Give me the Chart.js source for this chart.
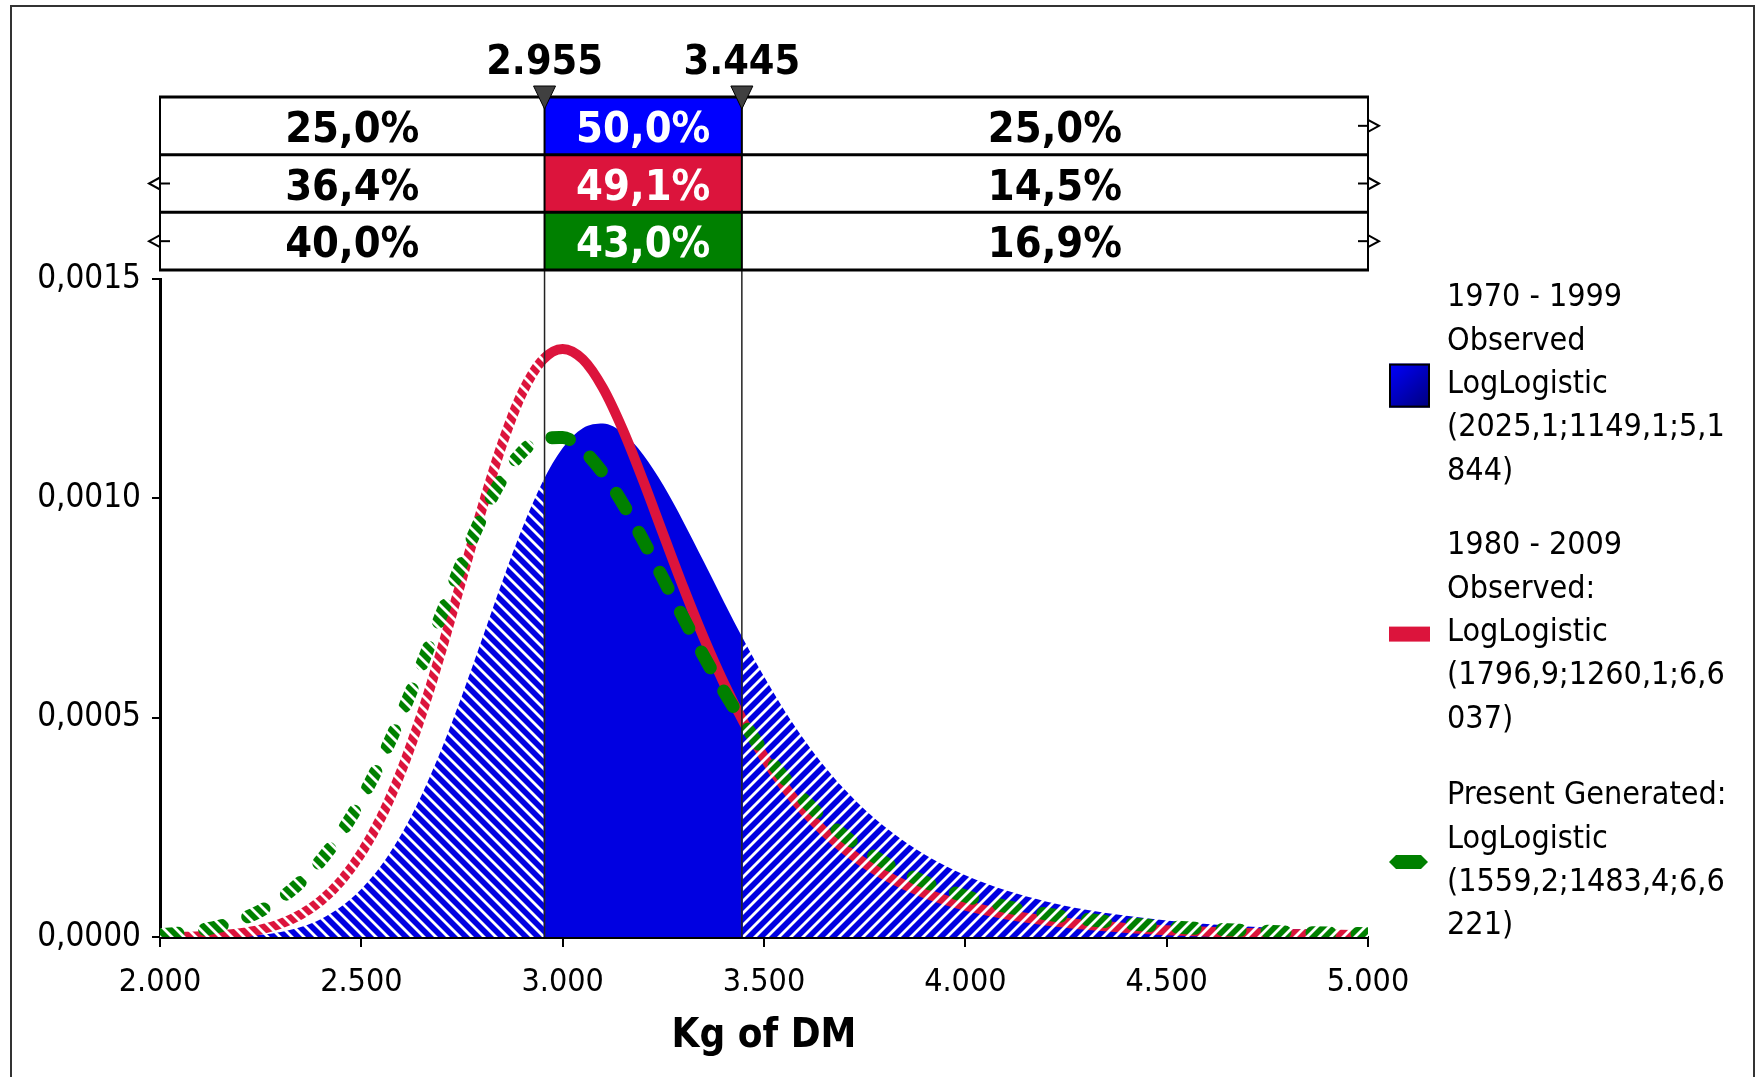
<!DOCTYPE html>
<html>
<head>
<meta charset="utf-8">
<title>Kg of DM</title>
<script src="https://cdn.jsdelivr.net/npm/chart.js@4.4.1/dist/chart.umd.min.js"></script>
<style>
  html,body{margin:0;padding:0;background:#fff;}
  canvas{display:block;}
</style>
</head>
<body>
<canvas id="c" width="1764" height="1077"></canvas>
<script>
// ===== DATA =====
const xs = [2000,2050,2100,2150,2200,2250,2300,2350,2400,2450,2500,2550,2600,2650,2700,2750,2800,2850,2900,2950,
            3000,3050,3100,3150,3200,3250,3300,3350,3400,3450,3500,3550,3600,3650,3700,3750,3800,3850,3900,3950,
            4000,4100,4200,4300,4400,4500,4600,4700,4800,4900,5000];

// 1970 - 1999 observed (blue area)
const blueVals = [0,0,0.00000005,0.0000004,0.0000017,0.0000049,0.0000113,0.0000228,0.0000413,0.0000694,
                  0.0001096,0.0001643,0.0002356,0.0003245,0.0004304,0.0005506,0.0006799,0.0008104,0.0009327,0.0010370,
                  0.0011145,0.0011596,0.0011704,0.0011487,0.0010995,0.0010296,0.0009463,0.0008563,0.0007650,0.0006765,
                  0.0005936,0.0005177,0.0004497,0.0003894,0.0003367,0.0002908,0.0002511,0.0002170,0.0001877,0.0001625,
                  0.0001409,0.0001065,0.0000812,0.0000624,0.0000484,0.0000378,0.0000298,0.0000237,0.0000189,0.0000153,0.0000124];

// 1980 - 2009 observed (red line)
const redVals = [0.0000002,0.0000006,0.0000018,0.0000042,0.0000088,0.0000170,0.0000304,0.0000515,0.0000830,0.0001284,
                 0.0001911,0.0002742,0.0003801,0.0005086,0.0006568,0.0008171,0.0009780,0.0011244,0.0012412,0.0013155,
                 0.0013407,0.0013170,0.0012515,0.0011551,0.0010400,0.0009176,0.0007964,0.0006826,0.0005796,0.0004888,
                 0.0004104,0.0003436,0.0002872,0.0002401,0.0002007,0.0001681,0.0001409,0.0001184,0.0000997,0.0000842,
                 0.0000713,0.0000515,0.0000376,0.0000278,0.0000207,0.0000156,0.0000119,0.0000091,0.0000071,0.0000055,0.0000043];

// present generated (green dashed line)
const greenVals = [0.0000049,0.0000089,0.0000153,0.0000251,0.0000395,0.0000600,0.0000882,0.0001260,0.0001752,0.0002374,
                   0.0003136,0.0004039,0.0005072,0.0006202,0.0007378,0.0008532,0.0009583,0.0010449,0.0011061,0.0011377,
                   0.0011384,0.0011102,0.0010576,0.0009869,0.0009043,0.0008161,0.0007271,0.0006411,0.0005607,0.0004872,
                   0.0004214,0.0003632,0.0003123,0.0002682,0.0002302,0.0001976,0.0001696,0.0001458,0.0001254,0.0001081,
                   0.0000933,0.0000698,0.0000527,0.0000401,0.0000307,0.0000237,0.0000185,0.0000145,0.0000114,0.0000091,0.0000073];

const xMin = 2000, xMax = 5000, xStep = 500;
const yMin = 0, yMax = 0.0015, yStep = 0.0005;

const cuts = [2955, 3445];
const cutLabels = ['2.955', '3.445'];
const leftPct  = ['25,0%', '36,4%', '40,0%'];
const midPct   = ['50,0%', '49,1%', '43,0%'];
const rightPct = ['25,0%', '14,5%', '16,9%'];
const rowColors = ['#0000FF', '#DC143C', '#008000'];

const legendLines = [
  ['1970 - 1999', 'Observed', 'LogLogistic', '(2025,1;1149,1;5,1', '844)'],
  ['1980 - 2009', 'Observed:', 'LogLogistic', '(1796,9;1260,1;6,6', '037)'],
  ['Present Generated:', 'LogLogistic', '(1559,2;1483,4;6,6', '221)']
];

// ===== STYLE =====
const FF = '"DejaVu Sans Condensed", "DejaVu Sans", sans-serif';
const BLUE = '#0000E1', RED = '#DC143C', GREEN = '#008000';
const TBL_TOP = 97, TBL_BOT = 270;
const LEG_X = 1447, LEG_TOP = [298, 546, 796], LEG_LH = 43.3;

// hatched pattern: plain in the middle band, white diagonals outside it
const patCache = {};
function hatch(chart, color) {
  const x = chart.scales.x;
  if (!x) return color;
  const a = x.getPixelForValue(cuts[0]), b = x.getPixelForValue(cuts[1]);
  const key = color + a + '_' + b + '_' + chart.width;
  if (patCache[key]) return patCache[key];
  const c = document.createElement('canvas');
  c.width = chart.width; c.height = chart.height;
  const g = c.getContext('2d'), H = c.height;
  g.fillStyle = color; g.fillRect(0, 0, c.width, H);
  g.strokeStyle = '#fff'; g.lineWidth = 2.8;
  g.save(); g.beginPath(); g.rect(0, 0, a - 1, H); g.clip();
  g.beginPath();
  for (let k = -H; k < c.width + H; k += 12) { g.moveTo(k, 0); g.lineTo(k + H, H); }
  g.stroke(); g.restore();
  g.save(); g.beginPath(); g.rect(b + 1, 0, c.width - b, H); g.clip();
  g.beginPath();
  for (let k = -H; k < c.width + H; k += 12) { g.moveTo(k, H); g.lineTo(k + H, 0); }
  g.stroke(); g.restore();
  patCache[key] = chart.ctx.createPattern(c, 'no-repeat');
  return patCache[key];
}

const pts = vals => xs.map((x, i) => ({x, y: vals[i]}));
const dots = v => String(v).replace(/\B(?=(\d{3})+(?!\d))/g, '.');

// ===== OVERLAY (table, markers, legend, frame) =====
function arrow(ctx, x, yc, dir) {
  ctx.beginPath();
  ctx.moveTo(x - dir * 10, yc); ctx.lineTo(x, yc); ctx.stroke();
  ctx.beginPath();
  ctx.moveTo(x, yc - 6); ctx.lineTo(x + dir * 11, yc); ctx.lineTo(x, yc + 6); ctx.closePath();
  ctx.fillStyle = '#fff'; ctx.fill(); ctx.stroke();
}

function drawTable(chart) {
  const {ctx} = chart, x = chart.scales.x;
  const x0 = x.getPixelForValue(xMin), x1 = x.getPixelForValue(cuts[0]);
  const x2 = x.getPixelForValue(cuts[1]), x3 = x.getPixelForValue(xMax);
  const rh = (TBL_BOT - TBL_TOP) / 3;
  ctx.save();
  for (let i = 0; i < 3; i++) {
    const t = TBL_TOP + i * rh;
    ctx.fillStyle = rowColors[i];
    ctx.fillRect(x1, t, x2 - x1, rh);
    ctx.font = 'bold 43px ' + FF;
    ctx.textAlign = 'center'; ctx.textBaseline = 'middle';
    ctx.fillStyle = '#000';
    ctx.fillText(leftPct[i], (x0 + x1) / 2, t + rh / 2 + 5);
    ctx.fillText(rightPct[i], (x2 + x3) / 2, t + rh / 2 + 5);
    ctx.fillStyle = '#fff';
    ctx.fillText(midPct[i], (x1 + x2) / 2, t + rh / 2 + 5);
  }
  ctx.strokeStyle = '#000';
  ctx.lineWidth = 2;
  [x0, x1, x2, x3].forEach(px => {
    ctx.beginPath(); ctx.moveTo(px, TBL_TOP); ctx.lineTo(px, TBL_BOT); ctx.stroke();
  });
  ctx.lineWidth = 3;
  for (let i = 0; i <= 3; i++) {
    const t = TBL_TOP + i * rh;
    ctx.beginPath(); ctx.moveTo(x0 - 1, t); ctx.lineTo(x3 + 1, t); ctx.stroke();
  }
  // little arrows on the table edges
  ctx.lineWidth = 2;
  for (let i = 0; i < 3; i++) {
    const yc = TBL_TOP + i * rh + rh / 2;
    arrow(ctx, x3, yc, 1);
    if (i > 0) arrow(ctx, x0, yc, -1);
  }
  // markers
  ctx.lineWidth = 1;
  [x1, x2].forEach((px, i) => {
    ctx.beginPath();
    ctx.moveTo(px - 11, 86); ctx.lineTo(px + 11, 86); ctx.lineTo(px, 109); ctx.closePath();
    ctx.fillStyle = '#404040'; ctx.fill(); ctx.stroke();
    ctx.fillStyle = '#000';
    ctx.font = 'bold 41px ' + FF;
    ctx.textAlign = 'center'; ctx.textBaseline = 'alphabetic';
    ctx.fillText(cutLabels[i], px, 74);
  });
  ctx.restore();
}

function drawLegend(chart) {
  const {ctx} = chart;
  ctx.save();
  ctx.font = '32px ' + FF;
  ctx.fillStyle = '#000';
  ctx.textAlign = 'left'; ctx.textBaseline = 'middle';
  legendLines.forEach((lines, i) => {
    lines.forEach((s, j) => ctx.fillText(s, LEG_X, LEG_TOP[i] + j * LEG_LH));
    const mid = LEG_TOP[i] + (lines.length - 1) * LEG_LH / 2 + 1;
    if (i === 0) {
      const gr = ctx.createLinearGradient(1389, mid - 22, 1430, mid + 22);
      gr.addColorStop(0, '#0000FF'); gr.addColorStop(1, '#00007A');
      ctx.fillStyle = gr; ctx.fillRect(1389, mid - 22, 41, 44);
      ctx.strokeStyle = '#000'; ctx.lineWidth = 2; ctx.strokeRect(1390, mid - 21, 39, 42);
    } else if (i === 1) {
      ctx.fillStyle = RED; ctx.fillRect(1389, mid - 7, 41, 15);
    } else {
      ctx.beginPath();
      ctx.moveTo(1389, mid); ctx.lineTo(1396, mid - 7); ctx.lineTo(1421, mid - 7);
      ctx.lineTo(1428, mid); ctx.lineTo(1421, mid + 7); ctx.lineTo(1396, mid + 7); ctx.closePath();
      ctx.fillStyle = GREEN; ctx.fill();
    }
    ctx.fillStyle = '#000';
  });
  ctx.restore();
}

const overlay = {
  id: 'overlay',
  afterDatasetsDraw(chart) {
    const {ctx, scales: {x, y}} = chart;
    ctx.save();
    ctx.strokeStyle = '#222'; ctx.lineWidth = 1.5;
    cuts.forEach(v => {
      const px = x.getPixelForValue(v);
      ctx.beginPath(); ctx.moveTo(px, TBL_BOT); ctx.lineTo(px, y.getPixelForValue(0)); ctx.stroke();
    });
    ctx.restore();
  },
  afterDraw(chart) {
    drawTable(chart);
    drawLegend(chart);
    const {ctx} = chart;
    ctx.save();
    ctx.strokeStyle = '#333'; ctx.lineWidth = 2;
    ctx.strokeRect(11, 6, 1743, 1200);
    ctx.restore();
  }
};

// ===== CHART =====
new Chart(document.getElementById('c').getContext('2d'), {
  type: 'line',
  data: {
    datasets: [
      {label: 'Present Generated', data: pts(greenVals), borderColor: c => hatch(c.chart, GREEN),
       borderWidth: 13, borderDash: [18, 27], borderCapStyle: 'round', pointRadius: 0, fill: false,
       cubicInterpolationMode: 'monotone', clip: 0},
      {label: '1980 - 2009', data: pts(redVals), borderColor: c => hatch(c.chart, RED),
       borderWidth: 10, pointRadius: 0, fill: false, cubicInterpolationMode: 'monotone', clip: 0},
      {label: '1970 - 1999', data: pts(blueVals), borderWidth: 0, pointRadius: 0, fill: 'origin',
       backgroundColor: c => hatch(c.chart, BLUE), cubicInterpolationMode: 'monotone', clip: 0}
    ]
  },
  options: {
    responsive: false, animation: false, devicePixelRatio: 1,
    layout: {padding: {top: 279, right: 396, left: 0, bottom: 0}},
    plugins: {legend: {display: false}, tooltip: {enabled: false}},
    scales: {
      x: {
        type: 'linear', min: xMin, max: xMax,
        ticks: {stepSize: xStep, color: '#000', font: {family: FF, size: 32}, padding: 16, maxRotation: 0,
                callback: v => dots(v)},
        grid: {drawOnChartArea: false, tickLength: 10, color: '#000', lineWidth: 2},
        border: {color: '#000', width: 3},
        title: {display: true, text: 'Kg of DM', color: '#000',
                font: {family: FF, size: 40, weight: 'bold'}, padding: {top: 4, bottom: 16}},
        afterFit: s => { s.height = 140; }
      },
      y: {
        min: yMin, max: yMax,
        ticks: {stepSize: yStep, color: '#000', font: {family: FF, size: 33}, padding: 11,
                callback: v => v.toFixed(4).replace('.', ',')},
        grid: {drawOnChartArea: false, tickLength: 8, color: '#000', lineWidth: 2},
        border: {color: '#000', width: 3},
        afterFit: s => { s.width = 160; }
      }
    }
  },
  plugins: [overlay]
});
</script>
</body>
</html>
